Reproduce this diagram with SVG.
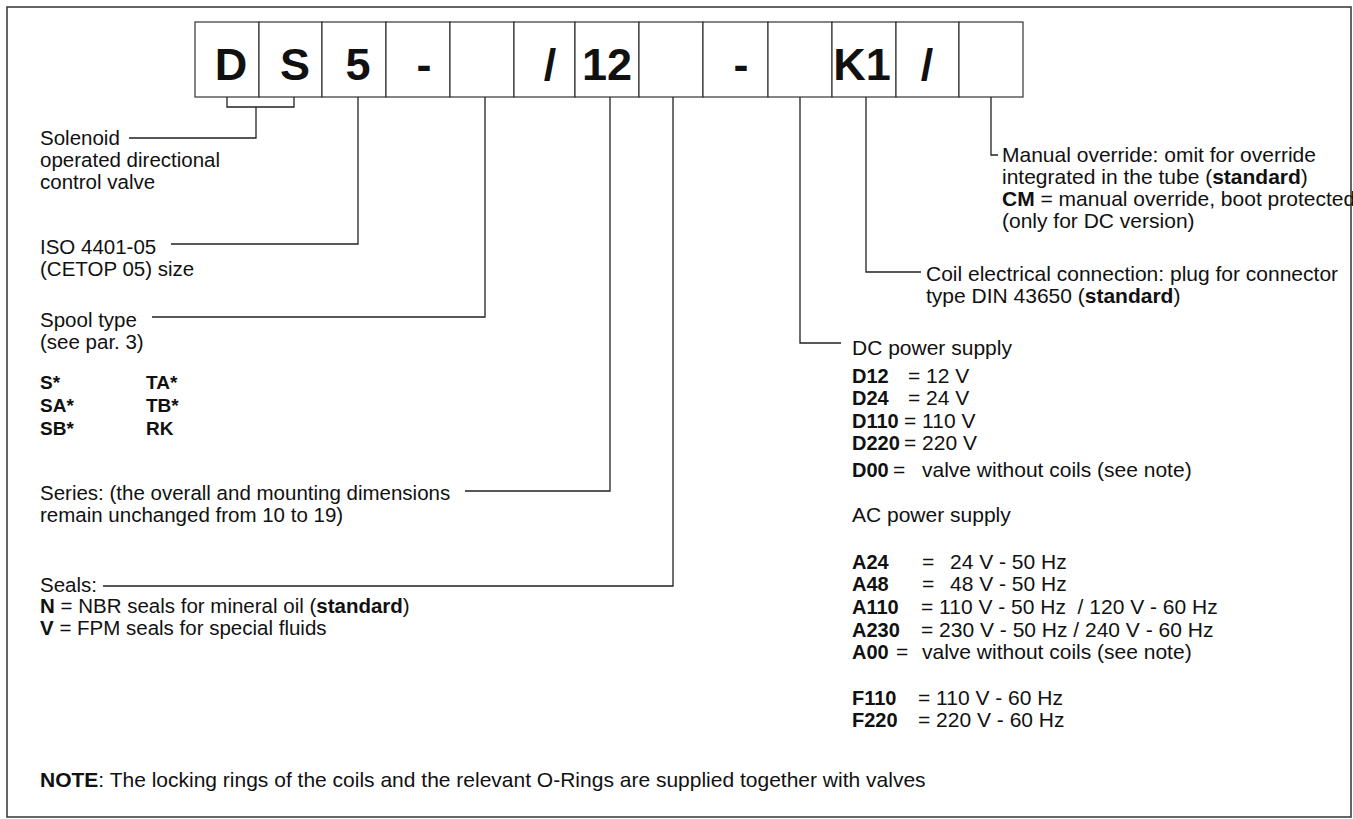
<svg xmlns="http://www.w3.org/2000/svg" width="1353" height="819" viewBox="0 0 1353 819">
<style>
text{font-family:"Liberation Sans",Arial,sans-serif;fill:#111}
.big{font-size:45px;font-weight:bold;text-anchor:middle}
.l{font-size:20.5px}
.r{font-size:21px}
.c{font-size:19px;font-weight:bold}
.k{font-size:20px;font-weight:bold}
.b{font-weight:bold}
.box{fill:#fff;stroke:#333;stroke-width:1.2}
.ln{fill:none;stroke:#222;stroke-width:1.3}
</style>
<rect x="7" y="7" width="1344" height="810" fill="#fff" stroke="#333" stroke-width="1.5"/>
<g id="code">
<g id="box1"><rect class="box" x="195" y="22" width="64" height="75"/><text class="big" x="231" y="80">D</text></g>
<g id="box2"><rect class="box" x="259" y="22" width="63" height="75"/><text class="big" x="295" y="80">S</text></g>
<g id="box3"><rect class="box" x="322" y="22" width="64" height="75"/><text class="big" x="358" y="80">5</text></g>
<g id="box4"><rect class="box" x="386" y="22" width="64" height="75"/><text class="big" x="424" y="80">-</text></g>
<g id="box5"><rect class="box" x="450" y="22" width="64" height="75"/></g>
<g id="box6"><rect class="box" x="514" y="22" width="61" height="75"/><text class="big" x="550" y="80">/</text></g>
<g id="box7"><rect class="box" x="575" y="22" width="64" height="75"/><text class="big" x="607" y="80">12</text></g>
<g id="box8"><rect class="box" x="639" y="22" width="64" height="75"/></g>
<g id="box9"><rect class="box" x="703" y="22" width="65" height="75"/><text class="big" x="741" y="80">-</text></g>
<g id="box10"><rect class="box" x="768" y="22" width="64" height="75"/></g>
<g id="box11"><rect class="box" x="832" y="22" width="64" height="75"/><text class="big" x="862" y="80">K1</text></g>
<g id="box12"><rect class="box" x="896" y="22" width="63" height="75"/><text class="big" x="927" y="80">/</text></g>
<g id="box13"><rect class="box" x="959" y="22" width="64" height="75"/></g>
</g>
<g id="connectors">
<path class="ln" d="M227 97V107H294V97M256 107V138H129"/>
<path class="ln" d="M358 97V244H171"/>
<path class="ln" d="M485 97V317H152"/>
<path class="ln" d="M610 97V491H465"/>
<path class="ln" d="M673 97V586H103"/>
<path class="ln" d="M800 97V343H841"/>
<path class="ln" d="M866 97V272H921"/>
<path class="ln" d="M991 97V155H998"/>
</g>
<g id="solenoid"><text class="l" x="40" y="145">Solenoid</text><text class="l" x="40" y="167">operated directional</text><text class="l" x="40" y="189">control valve</text></g>
<g id="size"><text class="l" x="40" y="254">ISO 4401-05</text><text class="l" x="40" y="276">(CETOP 05) size</text></g>
<g id="spool"><text class="l" x="40" y="327">Spool type</text><text class="l" x="40" y="349">(see par. 3)</text>
<text class="c" x="40" y="389">S*</text><text class="c" x="146" y="389">TA*</text>
<text class="c" x="40" y="412">SA*</text><text class="c" x="146" y="412">TB*</text>
<text class="c" x="40" y="435">SB*</text><text class="c" x="146" y="435">RK</text></g>
<g id="series"><text class="l" x="40" y="500">Series: (the overall and mounting dimensions</text><text class="l" x="40" y="522">remain unchanged from 10 to 19)</text></g>
<g id="seals"><text class="l" x="40" y="592">Seals:</text><text class="l" x="40" y="613"><tspan class="b">N</tspan> = NBR seals for mineral oil (<tspan class="b">standard</tspan>)</text><text class="l" x="40" y="635"><tspan class="b">V</tspan> = FPM seals for special fluids</text></g>
<g id="override"><text class="r" x="1002" y="162">Manual override: omit for override</text><text class="r" x="1002" y="184">integrated in the tube (<tspan class="b">standard</tspan>)</text><text class="r" x="1002" y="206"><tspan class="b">CM</tspan> = manual override, boot protected</text><text class="r" x="1002" y="228">(only for DC version)</text></g>
<g id="coil"><text class="r" x="926" y="281">Coil electrical connection: plug for connector</text><text class="r" x="926" y="303">type DIN 43650 (<tspan class="b">standard</tspan>)</text></g>
<g id="voltage">
<text class="r" x="852" y="355">DC power supply</text>
<text class="k" x="852" y="383">D12</text><text class="r" x="908" y="383">= 12 V</text>
<text class="k" x="852" y="405">D24</text><text class="r" x="908" y="405">= 24 V</text>
<text class="k" x="852" y="428">D110</text><text class="r" x="904" y="428">= 110 V</text>
<text class="k" x="852" y="450">D220</text><text class="r" x="904" y="450">= 220 V</text>
<text class="k" x="852" y="477">D00</text><text class="r" x="893" y="477">=</text><text class="r" x="922" y="477">valve without coils (see note)</text>
<text class="r" x="852" y="522">AC power supply</text>
<text class="k" x="852" y="569">A24</text><text class="r" x="922" y="569">=</text><text class="r" x="950" y="569">24 V - 50 Hz</text>
<text class="k" x="852" y="591">A48</text><text class="r" x="922" y="591">=</text><text class="r" x="950" y="591">48 V - 50 Hz</text>
<text class="k" x="852" y="614">A110</text><text class="r" x="921" y="614" xml:space="preserve">= 110 V - 50 Hz  / 120 V - 60 Hz</text>
<text class="k" x="852" y="637">A230</text><text class="r" x="921" y="637">= 230 V - 50 Hz / 240 V - 60 Hz</text>
<text class="k" x="852" y="659">A00</text><text class="r" x="896" y="659">=</text><text class="r" x="922" y="659">valve without coils (see note)</text>
<text class="k" x="852" y="705">F110</text><text class="r" x="918" y="705">= 110 V - 60 Hz</text>
<text class="k" x="852" y="727">F220</text><text class="r" x="918" y="727">= 220 V - 60 Hz</text>
</g>
<g id="note"><text class="r" x="40" y="787"><tspan class="b">NOTE</tspan>: The locking rings of the coils and the relevant O-Rings are supplied together with valves</text></g>
</svg>
